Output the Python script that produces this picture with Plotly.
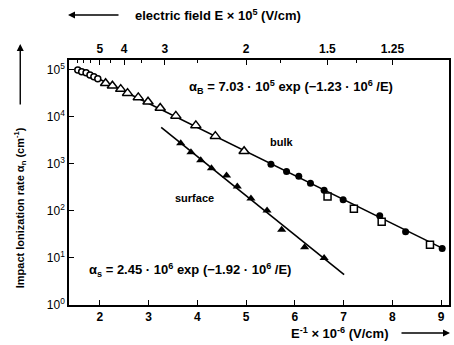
import plotly.graph_objects as go

# ---- data (x = E^-1 x 10^-6 (V/cm), y = impact ionization rate, cm^-1) ----
bulk_circ_x = [1.55, 1.63, 1.72, 1.80, 1.88, 1.96]
bulk_circ_y = [1.0e5, 9.1e4, 8.7e4, 7.8e4, 7.1e4, 6.5e4]

bulk_tri_x = [2.12, 2.26, 2.43, 2.57, 2.79, 2.99, 3.24, 3.56, 3.97, 4.37, 4.96]
bulk_tri_y = [5.2e4, 4.6e4, 3.9e4, 3.2e4, 2.6e4, 2.1e4, 1.55e4, 1.05e4, 6600, 3900, 1860]

bulk_dot_x = [5.51, 5.83, 6.08, 6.32, 6.60, 6.99, 7.74, 8.27, 9.02]
bulk_dot_y = [980, 690, 550, 390, 275, 174, 79, 36, 16]

bulk_sq_x = [6.67, 7.21, 7.78, 8.77]
bulk_sq_y = [204, 112, 59, 19]

surf_x = [3.66, 3.87, 4.07, 4.29, 4.60, 4.82, 5.10, 5.43, 5.73, 6.20, 6.60]
surf_y = [2750, 1780, 1200, 810, 570, 330, 184, 102, 40, 17, 10]

bulk_fit_x = [1.53, 9.04]
bulk_fit_y = [1.1e5, 15.8]
surf_fit_x = [3.26, 7.01]
surf_fit_y = [6000, 4.4]

x_ticks = [2, 3, 4, 5, 6, 7, 8, 9]
x_ticktext = ["2", "3", "4", "5", "6", "7", "8", "9"]
y_ticks = [1, 10, 100, 1000, 10000, 100000]
y_ticktext = ["10<sup>0</sup>", "10<sup>1</sup>", "10<sup>2</sup>",
              "10<sup>3</sup>", "10<sup>4</sup>", "10<sup>5</sup>"]
E_labels = [5, 4, 3, 2, 1.5, 1.25]          # electric field E x 10^5 V/cm
E_label_text = ["5", "4", "3", "2", "1.5", "1.25"]
E_minor = [6.5, 6, 5.5, 4.5, 3.5, 2.5, 1.75, 1.375]

X_RANGE = [1.37, 9.16]
FONT = "Liberation Sans"

def bold(lst):
    return ["<b>" + t + "</b>" for t in lst]

fig = go.Figure()
blk = "black"
fig.add_trace(go.Scatter(x=bulk_fit_x, y=bulk_fit_y, mode="lines",
                         line=dict(color=blk, width=1.6), showlegend=False))
fig.add_trace(go.Scatter(x=surf_fit_x, y=surf_fit_y, mode="lines",
                         line=dict(color=blk, width=1.6), showlegend=False))
fig.add_trace(go.Scatter(x=bulk_circ_x, y=bulk_circ_y, mode="markers",
                         marker=dict(symbol="circle", size=6, color="white",
                                     line=dict(color=blk, width=1.5)), showlegend=False))
fig.add_trace(go.Scatter(x=bulk_tri_x, y=bulk_tri_y, mode="markers",
                         marker=dict(symbol="triangle-up", size=9, color="white",
                                     line=dict(color=blk, width=1.5)), showlegend=False))
fig.add_trace(go.Scatter(x=bulk_dot_x, y=bulk_dot_y, mode="markers",
                         marker=dict(symbol="circle", size=7, color=blk), showlegend=False))
fig.add_trace(go.Scatter(x=bulk_sq_x, y=bulk_sq_y, mode="markers",
                         marker=dict(symbol="square", size=7, color="white",
                                     line=dict(color=blk, width=1.5)), showlegend=False))
fig.add_trace(go.Scatter(x=surf_x, y=surf_y, mode="markers",
                         marker=dict(symbol="triangle-up", size=8, color=blk), showlegend=False))
# invisible trace to activate top axis
fig.add_trace(go.Scatter(x=X_RANGE, y=[1, 1], xaxis="x2", mode="markers",
                         marker=dict(opacity=0), showlegend=False, hoverinfo="skip"))

tickfont = dict(family=FONT, size=12, color=blk)
fig.update_layout(
    width=454, height=345,
    margin=dict(l=69, r=3, t=60, b=40),
    paper_bgcolor="white", plot_bgcolor="white",
    font=dict(family=FONT, color=blk, size=11),
    xaxis=dict(range=X_RANGE, tickvals=x_ticks, ticktext=bold(x_ticktext),
               ticks="inside", ticklen=5,
               tickwidth=1.2, tickcolor=blk, showline=True, linecolor=blk,
               linewidth=1.6, showgrid=False, zeroline=False, tickfont=tickfont),
    xaxis2=dict(range=X_RANGE, overlaying="x", side="top",
                tickvals=[10 / e for e in E_labels], ticktext=bold(E_label_text),
                ticks="inside", ticklen=5, tickwidth=1.2, tickcolor=blk,
                minor=dict(tickvals=[10 / e for e in E_minor], ticks="inside",
                           ticklen=3, tickcolor=blk, showgrid=False),
                showline=True, linecolor=blk, linewidth=1.6, showgrid=False,
                zeroline=False, tickfont=tickfont),
    yaxis=dict(type="log", range=[0, 5.21], tickvals=y_ticks, ticktext=y_ticktext,
               ticks="inside", ticklen=5, tickwidth=1.2, tickcolor=blk,
               showline=True, linecolor=blk, linewidth=1.6, mirror=True,
               showgrid=False, zeroline=False, tickfont=tickfont),
)

def px2paper(px, py):
    return (px - 69) / 382.0, (305 - py) / 245.0

annots = []
def add_text(text, px, py, size=11, angle=0, xanchor="center"):
    x, y = px2paper(px, py)
    annots.append(dict(text="<b>" + text + "</b>", x=x, y=y, xref="paper", yref="paper",
                       showarrow=False, textangle=angle, xanchor=xanchor, yanchor="middle",
                       font=dict(family=FONT, size=size, color=blk)))

def add_arrow(px_head, py_head, px_tail, py_tail):
    x, y = px2paper(px_head, py_head)
    annots.append(dict(text="", x=x, y=y, xref="paper", yref="paper", showarrow=True,
                       ax=px_tail - px_head, ay=py_tail - py_head, axref="pixel", ayref="pixel",
                       arrowhead=2, arrowsize=1, arrowwidth=1.4, arrowcolor=blk))

add_text("electric field E × 10<sup>5</sup> (V/cm)", 133, 15, size=13, xanchor="left")
add_arrow(68, 15, 120, 15)
add_text("Impact Ionization rate α<sub>n</sub> (cm<sup>-1</sup>)", 20, 208, size=11, angle=-90)
add_arrow(20, 44, 20, 106)
add_text("E<sup>-1</sup> × 10<sup>-6</sup> (V/cm)", 290, 333, size=13, xanchor="left")
add_arrow(452, 333, 402, 333)
add_text("α<sub>B</sub> = 7.03 · 10<sup>5</sup> exp (−1.23 · 10<sup>6</sup> /E)", 188, 87, size=13, xanchor="left")
add_text("bulk", 283, 142, size=11)
add_text("surface", 195, 198, size=11)
add_text("α<sub>s</sub> = 2.45 · 10<sup>6</sup> exp (−1.92 · 10<sup>6</sup> /E)", 87, 270, size=13, xanchor="left")

fig.update_layout(annotations=annots)
fig.write_html("out.html", config={"displayModeBar": False},
               post_script="document.body.style.margin='0';document.body.style.overflow='hidden';")
